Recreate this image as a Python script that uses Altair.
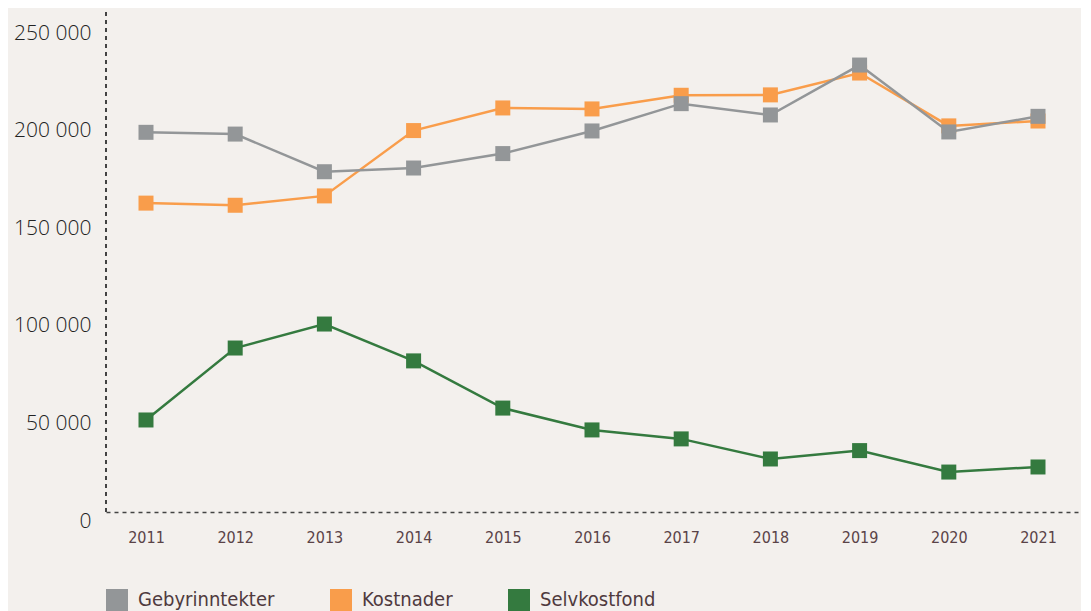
import altair as alt
import pandas as pd

years = [2011, 2012, 2013, 2014, 2015, 2016, 2017, 2018, 2019, 2020, 2021]
gebyrinntekter = [199300, 198400, 179100, 181000, 188400, 200000, 214000, 208200, 233800, 199500, 207500]
kostnader = [163000, 161900, 166700, 200200, 211800, 211300, 218300, 218500, 229700, 202600, 205100]
selvkostfond = [51800, 88700, 101000, 82100, 57900, 46700, 42100, 31800, 36100, 25100, 27700]

series_names = ["Gebyrinntekter", "Kostnader", "Selvkostfond"]
series_colors = ["#939698", "#f99d4b", "#347a3f"]
y_ticks = [0, 50000, 100000, 150000, 200000, 250000]

rows = []
for name, vals in zip(series_names, [gebyrinntekter, kostnader, selvkostfond]):
    for yr, v in zip(years, vals):
        rows.append({"year": yr, "value": v, "series": name})
df = pd.DataFrame(rows)

cond_font = "'DejaVu Sans Condensed', 'Open Sans', sans-serif"

x_enc = alt.X(
    "year:Q",
    scale=alt.Scale(domain=[2010.5516, 2021.4821], nice=False, zero=False),
    axis=alt.Axis(
        values=years, format="d", title=None, grid=False, ticks=False,
        domain=True, domainDash=[4, 4], domainColor="#444444", domainWidth=1.3,
        offset=-9, labelPadding=17, labelFont=cond_font,
        labelFontSize=16, labelFontWeight=300, labelColor="#5a4347", labelFlush=False,
    ),
)
y_enc = alt.Y(
    "value:Q",
    scale=alt.Scale(domain=[0, 261000], nice=False),
    axis=alt.Axis(
        values=y_ticks, title=None, grid=False, ticks=False, domain=False,
        labelExpr="datum.value == 0 ? '0' : format(datum.value / 1000, 'd') + ' 000'",
        labelFont="Open Sans", labelFontSize=21, labelFontWeight=300,
        labelColor="#222222", labelPadding=15,
    ),
)
color_enc = alt.Color(
    "series:N",
    scale=alt.Scale(domain=series_names, range=series_colors),
    legend=alt.Legend(
        title=None, orient="none", legendX=0, legendY=577, direction="horizontal",
        symbolType="square", symbolSize=484, symbolStrokeWidth=0,
        symbolOpacity=1, labelFont=cond_font, labelFontSize=20, labelFontWeight=300,
        labelColor="#4f3a3e", columnPadding=55, labelOffset=10,
    ),
)

yaxis_line = alt.Chart(df).mark_rule(
    color="#444444", strokeDash=[4, 4], strokeWidth=1.3
).encode(x=alt.value(0), y=alt.value(0), y2=alt.value(500))

layers = [yaxis_line]
for name in ["Selvkostfond", "Kostnader", "Gebyrinntekter"]:
    sub = alt.Chart(df).transform_filter(alt.datum.series == name)
    layers.append(sub.mark_line(strokeWidth=2.5).encode(x=x_enc, y=y_enc, color=color_enc))
    layers.append(
        sub.mark_point(shape="square", filled=True, size=225, opacity=1).encode(
            x=x_enc, y=y_enc, color=color_enc
        )
    )

chart = alt.layer(*layers).properties(
    width=975, height=509,
    autosize=alt.AutoSizeParams(type="none"),
    padding={"left": 98, "top": 4, "right": 0, "bottom": 90},
    background="#f3f0ed",
).configure_view(stroke=None)

chart.save("out.html", embed_options={"renderer": "svg", "actions": False})
